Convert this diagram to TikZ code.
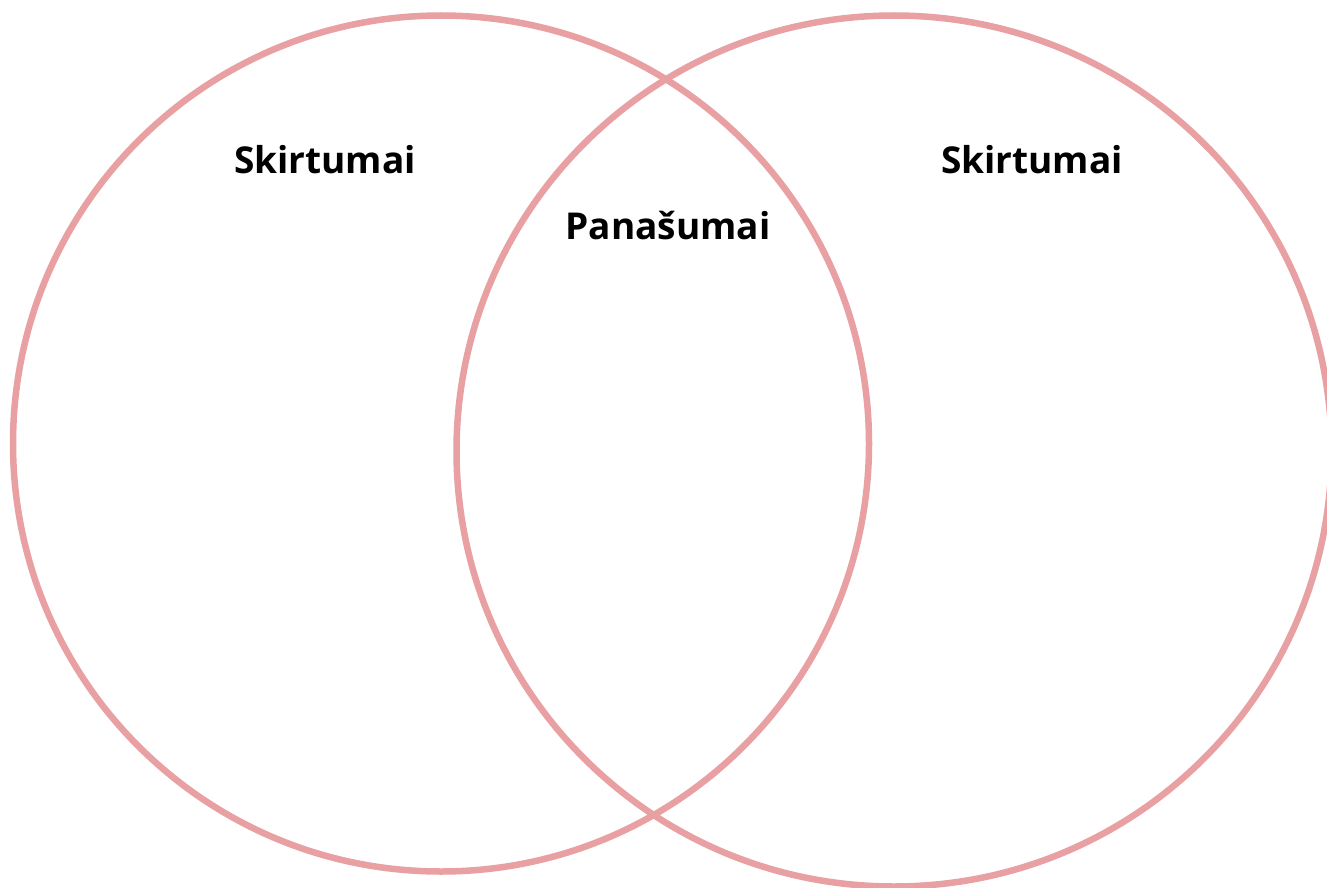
\documentclass[tikz,border=0pt]{standalone}
\usepackage{fontspec}
\setmainfont{Open Sans}
\usepackage{tikz}
\usetikzlibrary{positioning}
\definecolor{ring}{HTML}{E8A0A3}

\begin{document}
\begin{tikzpicture}[
        x=1pt, y=-1pt,
        ring/.style={draw=ring, line width=6.5pt},
        lbl/.style={font=\fontsize{37}{44}\selectfont\bfseries, text=black, inner sep=0pt},
      ]
      \useasboundingbox (0,0) rectangle (1327,888);
      % Two sets
      \draw[ring] (441,443.5) ellipse [x radius=428, y radius=428];
      \draw[ring] (894,451) ellipse [x radius=437.5, y radius=435.5];

      % Labels
      \node[lbl] (diffL) at (325,160) {Skirtumai};
      \node[lbl] (diffR) at (1032,160) {Skirtumai};
      \node[lbl] (same) at (668,226) {Panašumai};
\end{tikzpicture}
\end{document}
